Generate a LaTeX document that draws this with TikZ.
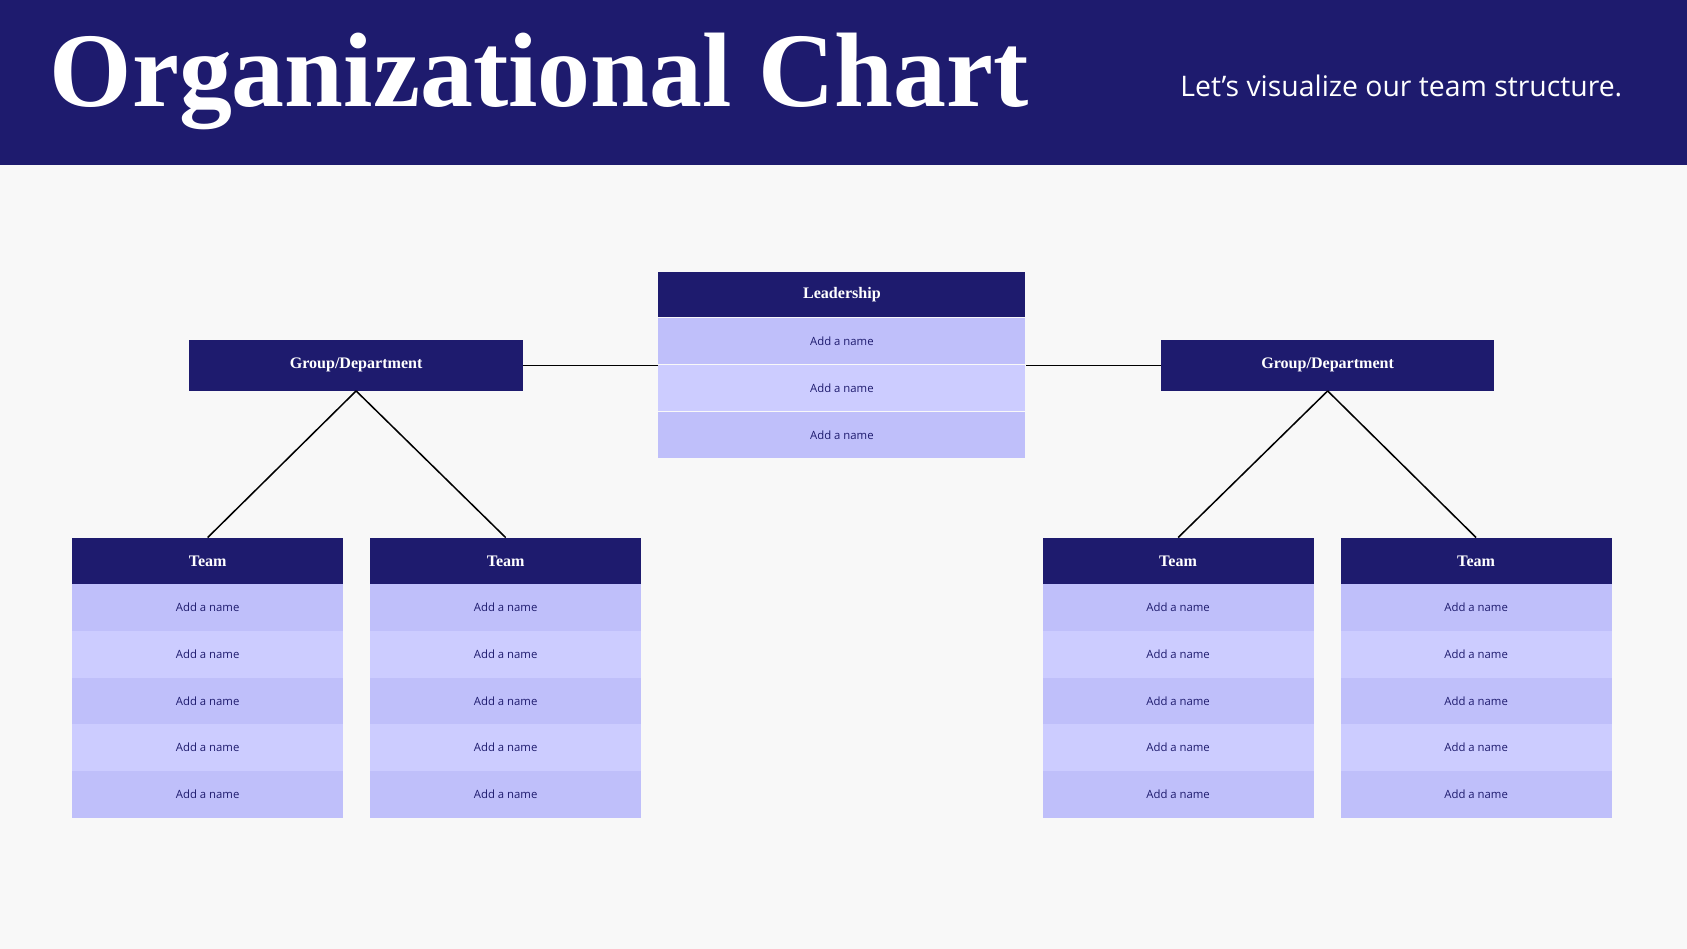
\documentclass[tikz,border=0pt]{standalone}
\usepackage{fontspec}
\setmainfont{Liberation Serif}
\setsansfont{Open Sans}
\usetikzlibrary{positioning}
\definecolor{navy}{HTML}{1E1B6E}
\definecolor{rowA}{HTML}{BFBFFA}
\definecolor{rowB}{HTML}{CCCCFF}
\definecolor{paper}{HTML}{F8F8F8}

\begin{document}
\begin{tikzpicture}[x=0.02cm,y=-0.02cm]
        \tikzset{head/.style = {shape=rectangle,fill=navy,text=white,
                inner sep=0pt,font=\bfseries\fontsize{8.5}{10}\selectfont}}
        \tikzset{row/.style = {shape=rectangle,inner sep=0pt,text=navy,
                font=\sffamily\fontsize{6}{7}\selectfont}}
        \tikzset{edge/.style = {-,line width=0.8pt}}

        \fill[paper] (0,0) rectangle (1568,882);
        \fill[navy] (0,0) rectangle (1568,153);
        \node[anchor=west,text=white,font=\bfseries\fontsize{56}{60}\selectfont] (title) at (40,76) {Organizational Chart};
        \node[anchor=east,text=white,font=\sffamily\fontsize{15}{18}\selectfont] (sub) at (1514,80) {Let's visualize our team structure.};

        % leadership
        \node[head,minimum width=6.82cm,minimum height=0.84cm] (lead) at (782.5,274) {Leadership};
        \foreach \i/\c in {1/rowA,2/rowB,3/rowA} {
            \node[row,fill=\c,minimum width=6.82cm,minimum height=0.87cm] (lead\i) at (782.5,{295+43.7*(\i-0.5)}) {Add a name};
        }

        % groups
        \node[head,minimum width=6.2cm,minimum height=0.94cm] (gl) at (331,339.5) {Group/Department};
        \node[head,minimum width=6.2cm,minimum height=0.94cm] (gr) at (1234,339.5) {Group/Department};

        % teams
        \foreach \n/\x in {t1/193,t2/470,t3/1095,t4/1372} {
            \node[head,minimum width=5.04cm,minimum height=0.86cm] (\n) at (\x,521.5) {Team};
            \foreach \i/\c in {1/rowA,2/rowB,3/rowA,4/rowB,5/rowA} {
                \node[row,fill=\c,minimum width=5.04cm,minimum height=0.87cm] (\n r\i) at (\x,{543+43.4*(\i-0.5)}) {Add a name};
            }
        }

        \draw[edge] (gl.east) to (gl.east -| lead.west);
        \draw[edge] (gr.west) to (gr.west -| lead.east);
        \draw[edge] (gl.south) to (t1.north);
        \draw[edge] (gl.south) to (t2.north);
        \draw[edge] (gr.south) to (t3.north);
        \draw[edge] (gr.south) to (t4.north);
\end{tikzpicture}
\end{document}
